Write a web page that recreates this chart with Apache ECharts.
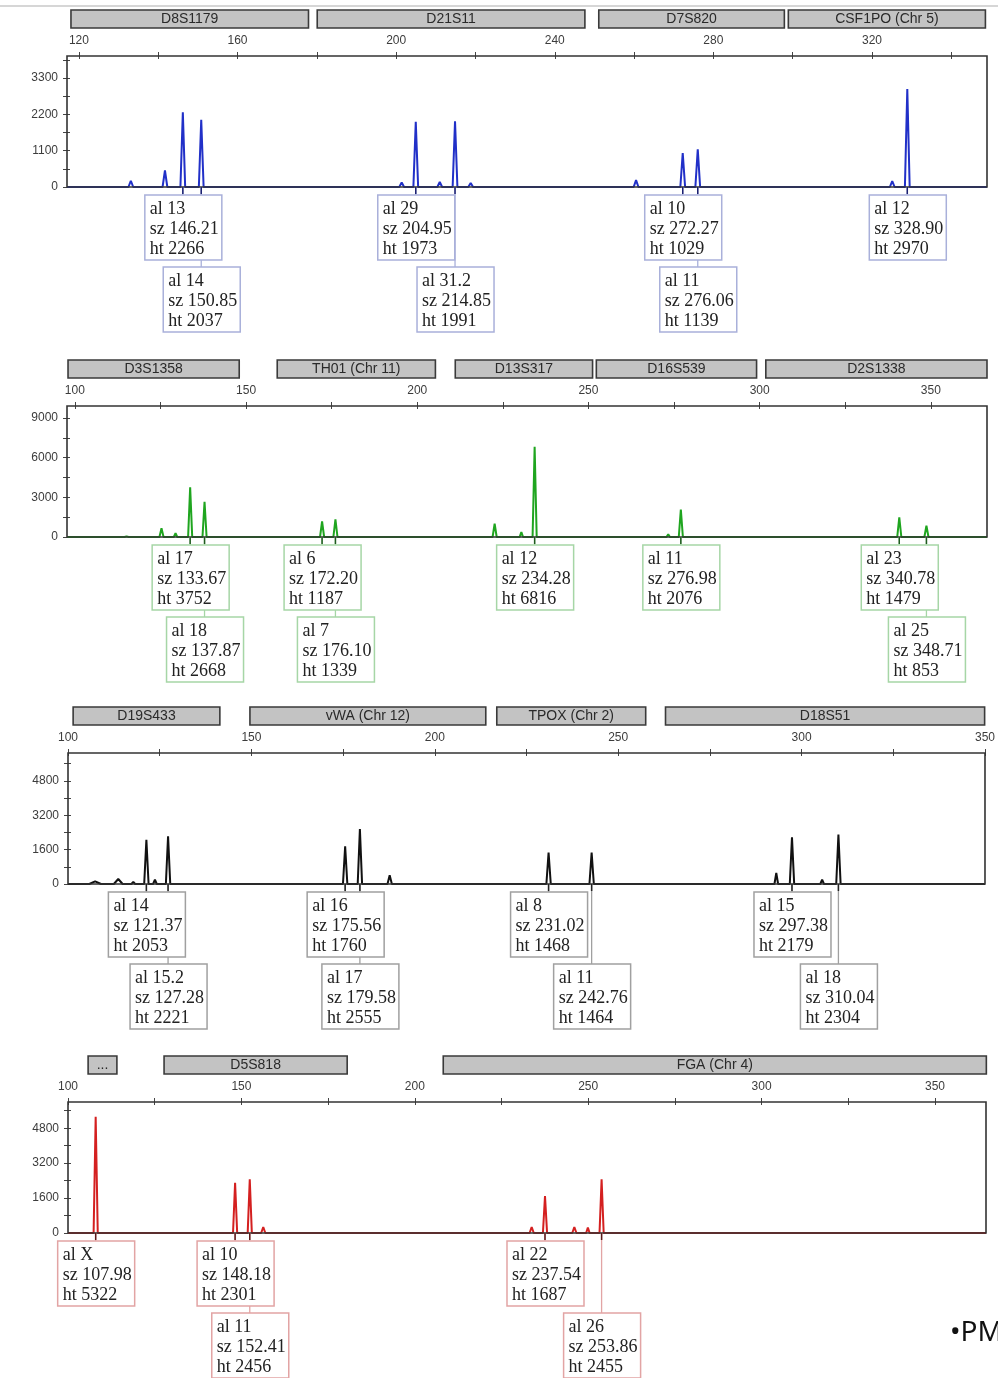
<!DOCTYPE html>
<html><head><meta charset="utf-8">
<script src="https://cdn.jsdelivr.net/npm/echarts@6/dist/echarts.min.js"></script>
<style>html,body{margin:0;padding:0;background:#fff}#c{width:998px;height:1378px}</style>
</head><body><div id="c"></div>
<script>
// ---------- DATA ----------
// Panel 1 (blue dye)
const lociBlue = ['D8S1179', 'D21S11', 'D7S820', 'CSF1PO (Chr 5)'];
const lociBlueRange = [[118, 177.9], [180.1, 247.6], [251.1, 297.9], [298.9, 348.6]];
const traceBlue = [
  [117,0],
  [132.5,0],[133.1,190],[133.7,0],
  [136.6,0],[137.1,50],[137.6,0],
  [141.1,0],[141.7,500],[142.3,0],
  [145.6,0],[146.21,2266],[146.8,0],
  [150.25,0],[150.85,2037],[151.45,0],
  [175.3,0],[175.8,30],[176.3,0],
  [200.8,0],[201.4,140],[202.0,0],
  [204.35,0],[204.95,1973],[205.55,0],
  [210.4,0],[211.0,150],[211.6,0],
  [214.25,0],[214.85,1991],[215.45,0],
  [218.2,0],[218.8,120],[219.4,0],
  [233.9,0],[234.4,30],[234.9,0],
  [259.9,0],[260.5,210],[261.1,0],
  [267.7,0],[268.2,60],[268.7,0],
  [271.67,0],[272.27,1029],[272.87,0],
  [275.46,0],[276.06,1139],[276.66,0],
  [324.5,0],[325.1,180],[325.7,0],
  [328.3,0],[328.90,2970],[329.5,0],
  [333.3,0],[333.7,20],[334.1,0],
  [349,0]
];
const allelesBlue = ['13', '14', '29', '31.2', '10', '11', '12'];
const sizesBlue = [146.21, 150.85, 204.95, 214.85, 272.27, 276.06, 328.90];
const heightsBlue = [2266, 2037, 1973, 1991, 1029, 1139, 2970];
const rowsBlue = [0, 1, 0, 1, 0, 1, 0];
const xTicksBlue = [120,140,160,180,200,220,240,260,280,300,320,340];
const xLabelsBlue = [120,160,200,240,280,320];
const yTicksBlue = [0,550,1100,1650,2200,2750,3300,3850];
const yLabelsBlue = [0,1100,2200,3300];

// Panel 2 (green dye)
const lociGreen = ['D3S1358', 'TH01 (Chr 11)', 'D13S317', 'D16S539', 'D2S1338'];
const lociGreenRange = [[98, 148], [159.1, 205.3], [211.1, 251.2], [252.3, 299.1], [301.8, 366.4]];
const traceGreen = [
  [97.7,0],[98.0,100],[98.6,0],
  [114.5,0],[115.1,50],[115.7,0],
  [124.7,0],[125.3,660],[125.9,0],
  [128.9,0],[129.4,300],[129.9,0],
  [133.07,0],[133.67,3752],[134.27,0],
  [137.27,0],[137.87,2668],[138.47,0],
  [171.6,0],[172.20,1187],[172.8,0],
  [175.5,0],[176.10,1339],[176.7,0],
  [222.0,0],[222.6,1000],[223.2,0],
  [229.9,0],[230.4,380],[230.9,0],
  [233.68,0],[234.28,6816],[234.88,0],
  [268.9,0],[269.3,30],[269.7,0],
  [272.8,0],[273.3,200],[273.8,0],
  [276.38,0],[276.98,2076],[277.58,0],
  [324.2,0],[324.7,80],[325.2,0],
  [336.5,0],[337.0,150],[337.5,0],
  [340.18,0],[340.78,1479],[341.38,0],
  [344.6,0],[345.1,80],[345.6,0],
  [348.11,0],[348.71,853],[349.31,0],
  [366.4,0]
];
const allelesGreen = ['17', '18', '6', '7', '12', '11', '23', '25'];
const sizesGreen = [133.67, 137.87, 172.20, 176.10, 234.28, 276.98, 340.78, 348.71];
const heightsGreen = [3752, 2668, 1187, 1339, 6816, 2076, 1479, 853];
const rowsGreen = [0, 1, 0, 1, 0, 0, 0, 1];
const xTicksGreen = [100,125,150,175,200,225,250,275,300,325,350];
const xLabelsGreen = [100,150,200,250,300,350];
const yTicksGreen = [0,1500,3000,4500,6000,7500,9000];
const yLabelsGreen = [0,3000,6000,9000];

// Panel 3 (black dye)
const lociBlack = ['D19S433', 'vWA (Chr 12)', 'TPOX (Chr 2)', 'D18S51'];
const lociBlackRange = [[101.4, 141.4], [149.6, 213.9], [216.9, 257.5], [262.9, 349.9]];
const traceBlack = [
  [100,0],
  [105.8,0],[107.4,125],[109.0,0],
  [112.5,0],[113.7,233],[114.9,0],
  [117.3,0],[117.8,100],[118.3,0],
  [120.77,0],[121.37,2053],[121.97,0],
  [123.2,0],[123.7,200],[124.2,0],
  [126.68,0],[127.28,2221],[127.88,0],
  [129.1,0],[129.6,80],[130.1,0],
  [133.5,0],[134.0,40],[134.5,0],
  [171.3,0],[171.8,80],[172.3,0],
  [174.96,0],[175.56,1760],[176.16,0],
  [178.98,0],[179.58,2555],[180.18,0],
  [187.1,0],[187.7,405],[188.3,0],
  [230.42,0],[231.02,1468],[231.62,0],
  [242.16,0],[242.76,1464],[243.36,0],
  [292.6,0],[293.1,513],[293.6,0],
  [296.78,0],[297.38,2179],[297.98,0],
  [305.1,0],[305.6,200],[306.1,0],
  [309.44,0],[310.04,2304],[310.64,0],
  [350,0]
];
const allelesBlack = ['14', '15.2', '16', '17', '8', '11', '15', '18'];
const sizesBlack = [121.37, 127.28, 175.56, 179.58, 231.02, 242.76, 297.38, 310.04];
const heightsBlack = [2053, 2221, 1760, 2555, 1468, 1464, 2179, 2304];
const rowsBlack = [0, 1, 0, 1, 0, 1, 0, 1];
const xTicksBlack = [100,125,150,175,200,225,250,275,300,325,350];
const xLabelsBlack = [100,150,200,250,300,350];
const yTicksBlack = [0,800,1600,2400,3200,4000,4800,5600];
const yLabelsBlack = [0,1600,3200,4800];

// Panel 4 (red dye)
const lociRed = ['...', 'D5S818', 'FGA (Chr 4)'];
const lociRedRange = [[105.8, 114.1], [127.7, 180.5], [208.2, 364.8]];
const traceRed = [
  [100,0],
  [103.0,0],[103.5,80],[104.0,0],
  [107.38,0],[107.98,5322],[108.58,0],
  [143.3,0],[143.8,80],[144.3,0],
  [147.58,0],[148.18,2301],[148.78,0],
  [151.81,0],[152.41,2456],[153.01,0],
  [155.7,0],[156.3,275],[156.9,0],
  [233.1,0],[233.7,275],[234.3,0],
  [236.94,0],[237.54,1687],[238.14,0],
  [245.4,0],[246.0,275],[246.6,0],
  [249.4,0],[249.9,250],[250.4,0],
  [253.26,0],[253.86,2455],[254.46,0],
  [276.5,0],[277.0,40],[277.5,0],
  [364.7,0]
];
const allelesRed = ['X', '10', '11', '22', '26'];
const sizesRed = [107.98, 148.18, 152.41, 237.54, 253.86];
const heightsRed = [5322, 2301, 2456, 1687, 2455];
const rowsRed = [0, 0, 1, 0, 1];
const xTicksRed = [100,125,150,175,200,225,250,275,300,325,350];
const xLabelsRed = [100,150,200,250,300,350];
const yTicksRed = [0,800,1600,2400,3200,4000,4800,5600];
const yLabelsRed = [0,1600,3200,4800];

// ---------- PANELS ----------
const panels = [
  {loci: lociBlue, ranges: lociBlueRange, trace: traceBlue, al: allelesBlue, sz: sizesBlue, ht: heightsBlue, rows: rowsBlue,
   xT: xTicksBlue, xL: xLabelsBlue, yT: yTicksBlue, yL: yLabelsBlue, xMin: 117, xMax: 349, yMax: 3970,
   color: '#2130c8', box: '#a9b0da', tick: '#1a1f70', layout: {left: 67, right: 11, top: 56, height: 131}},
  {loci: lociGreen, ranges: lociGreenRange, trace: traceGreen, al: allelesGreen, sz: sizesGreen, ht: heightsGreen, rows: rowsGreen,
   xT: xTicksGreen, xL: xLabelsGreen, yT: yTicksGreen, yL: yLabelsGreen, xMin: 97.7, xMax: 366.4, yMax: 9900,
   color: '#1fa51f', box: '#a6d6a6', tick: '#1f5a1f', layout: {left: 67, right: 11, top: 406, height: 131}},
  {loci: lociBlack, ranges: lociBlackRange, trace: traceBlack, al: allelesBlack, sz: sizesBlack, ht: heightsBlack, rows: rowsBlack,
   xT: xTicksBlack, xL: xLabelsBlack, yT: yTicksBlack, yL: yLabelsBlack, xMin: 100, xMax: 350, yMax: 6100,
   color: '#111111', box: '#a0a0a0', tick: '#222', layout: {left: 68, right: 13, top: 753, height: 131}},
  {loci: lociRed, ranges: lociRedRange, trace: traceRed, al: allelesRed, sz: sizesRed, ht: heightsRed, rows: rowsRed,
   xT: xTicksRed, xL: xLabelsRed, yT: yTicksRed, yL: yLabelsRed, xMin: 100, xMax: 364.7, yMax: 6000,
   color: '#d42020', box: '#e2a4a4', tick: '#5a1a1a', layout: {left: 68, right: 12, top: 1102, height: 131}}
];

const W = 998;
const chart = echarts.init(document.getElementById('c'), null, {renderer: 'canvas'});
const labelFont = {fontSize: 12, color: '#3c3c3c', fontFamily: '"Liberation Sans", Arial, sans-serif', formatter: v => String(v)};

const option = {animation: false, backgroundColor: '#fff', grid: [], xAxis: [], yAxis: [], series: []};
panels.forEach((p, i) => {
  const L = p.layout;
  const gw = W - L.left - L.right;
  option.grid.push(Object.assign({show: true, borderColor: '#333', borderWidth: 1.6, backgroundColor: 'transparent', z: 5}, L));
  // outer ticks + labels (top)
  option.xAxis.push({gridIndex: i, type: 'value', position: 'top', min: p.xMin, max: p.xMax,
    axisLine: {show: false, onZero: false}, splitLine: {show: false},
    axisTick: {show: true, length: 4, customValues: p.xT, lineStyle: {color: '#444'}},
    axisLabel: Object.assign({customValues: p.xL, margin: 9}, labelFont)});
  // inner ticks (bottom axis shifted up onto the top edge, ticks pointing into the plot)
  option.xAxis.push({gridIndex: i, type: 'value', position: 'bottom', offset: -L.height, min: p.xMin, max: p.xMax,
    axisLine: {show: false, onZero: false}, splitLine: {show: false}, axisLabel: {show: false},
    axisTick: {show: true, inside: false, length: 3, customValues: p.xT, lineStyle: {color: '#444'}}});
  option.yAxis.push({gridIndex: i, type: 'value', position: 'left', min: 0, max: p.yMax,
    axisLine: {show: false, onZero: false}, splitLine: {show: false},
    axisTick: {show: true, length: 4, customValues: p.yT, lineStyle: {color: '#444'}},
    axisLabel: Object.assign({customValues: p.yL, margin: 9}, labelFont)});
  option.yAxis.push({gridIndex: i, type: 'value', position: 'right', offset: -gw, min: 0, max: p.yMax,
    axisLine: {show: false, onZero: false}, splitLine: {show: false}, axisLabel: {show: false},
    axisTick: {show: true, inside: false, length: 3, customValues: p.yT, lineStyle: {color: '#444'}}});
  option.series.push({type: 'line', xAxisIndex: 2 * i, yAxisIndex: 2 * i, data: p.trace,
    symbol: 'none', silent: true, lineStyle: {color: p.color, width: 2}, z: 2});
});
chart.setOption(option);

// ---------- ANNOTATIONS ----------
const g = [];
g.push({type: 'line', silent: true, shape: {x1: 0, y1: 6, x2: 998, y2: 6}, style: {stroke: '#c8c8c8', lineWidth: 1.5}, z: 1});
panels.forEach((p, i) => {
  const f = {xAxisIndex: 2 * i, yAxisIndex: 2 * i};
  const top = p.layout.top;
  const baseY = chart.convertToPixel(f, [p.xMin, 0])[1];
  p.loci.forEach((name, k) => {
    const x1 = chart.convertToPixel(f, [p.ranges[k][0], 0])[0];
    const x2 = chart.convertToPixel(f, [p.ranges[k][1], 0])[0];
    g.push({type: 'rect', silent: true, shape: {x: x1, y: top - 46, width: x2 - x1, height: 18},
      style: {fill: '#c3c3c3', stroke: '#3a3a3a', lineWidth: 1.6}, z: 10});
    g.push({type: 'text', silent: true, x: (x1 + x2) / 2, y: top - 37,
      style: {text: name, align: 'center', verticalAlign: 'middle', fontSize: 14,
        fontFamily: '"Liberation Sans", Arial, sans-serif', fill: '#2a2a2a'}, z: 11});
  });
  p.sz.forEach((s, k) => {
    const px = chart.convertToPixel(f, [s, 0])[0];
    const bTop = baseY + (p.rows[k] ? 80 : 8);
    const left = px - 38;
    g.push({type: 'line', silent: true, shape: {x1: px, y1: baseY, x2: px, y2: bTop},
      style: {stroke: p.box, lineWidth: 1.3}, z: 10});
    g.push({type: 'line', silent: true, shape: {x1: px, y1: baseY, x2: px, y2: baseY + 7},
      style: {stroke: p.tick, lineWidth: 1.5}, z: 12});
    g.push({type: 'rect', silent: true, shape: {x: left, y: bTop, width: 77, height: 65},
      style: {fill: '#fff', stroke: p.box, lineWidth: 1.5}, z: 11});
    g.push({type: 'text', silent: true, x: left + 5, y: bTop + 4,
      style: {text: 'al ' + p.al[k] + '\nsz ' + s.toFixed(2) + '\nht ' + p.ht[k],
        fontSize: 18, lineHeight: 20, fontFamily: '"Liberation Serif", "Times New Roman", serif',
        fill: '#222', align: 'left', verticalAlign: 'top'}, z: 12});
  });
});
g.push({type: 'text', silent: true, x: 950, y: 1333,
  style: {text: '\u2022PM', fontSize: 28, fontFamily: '"Noto Sans", sans-serif', fill: '#111',
    align: 'left', verticalAlign: 'middle'}, z: 12});
chart.setOption({graphic: g});
</script></body></html>
